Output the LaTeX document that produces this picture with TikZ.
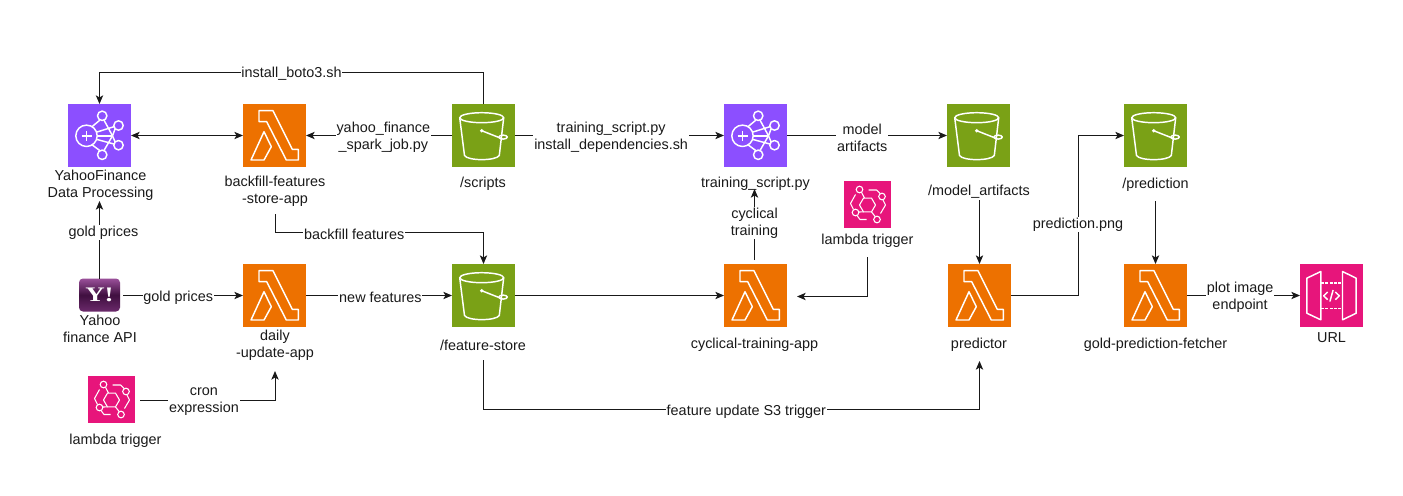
\documentclass[tikz,border=0pt]{standalone}
\usepackage{fontspec}
\setmainfont{Liberation Sans}
\newfontfamily\yahoofont[FakeStretch=1.3]{Liberation Serif}
\usetikzlibrary{arrows.meta,calc}
\definecolor{cpurple}{HTML}{8C4FFF}
\definecolor{corange}{HTML}{ED7100}
\definecolor{cgreen}{HTML}{7AA116}
\definecolor{cpink}{HTML}{E7157B}
\definecolor{ctext}{HTML}{1A1A1A}
\definecolor{ytop}{HTML}{9A509A}
\definecolor{ymid}{HTML}{3F0F3F}
\definecolor{ybot}{HTML}{6B2A6B}
\newcommand{\lambdaglyph}{\begin{scope}[shift={(path picture bounding box.center)},glyph]
 \draw (-15.5,-24.8) -- (-1.5,-24.8) -- (17.8,13.8) -- (23.8,13.8) -- (23.8,24.5) -- (11.8,24.5) -- (-7.8,-13.8) -- (-15.5,-13.8) -- cycle;
 \draw (-10.5,-3.8) -- (-3.2,11.2) -- (-10.5,24.5) -- (-23.5,24.5) -- cycle;
\end{scope}}
\newcommand{\bucketglyph}{\begin{scope}[shift={(path picture bounding box.center)},glyph]
 \draw (-1.8,-17.8) ellipse [x radius=22,y radius=5];
 \draw (-23.8,-17.8) -- (-19,20) .. controls (-16,25.5) and (12.5,25.5) .. (15.8,20) -- (20.2,-17.8);
 \draw (-1.8,-4.8) -- (18.5,3.2);
 \fill[white] (-1.8,-4.8) circle [radius=1.9];
 \draw[rotate around={20:(19.6,1.6)}] (19.6,1.6) ellipse [x radius=4.2,y radius=2];
\end{scope}}
\newcommand{\neuralglyph}{\begin{scope}[shift={(path picture bounding box.center)},glyph]
 \draw (-13,0.3) circle [radius=10.7];
 \draw (-18,0.3) -- (-8,0.3) (-13,-4.7) -- (-13,5.3);
 \draw (2.7,-19.7) circle [radius=4.7] (19,-10) circle [radius=4.7] (19,9.7) circle [radius=4.7] (2.7,19.3) circle [radius=4.7];
 \draw (-7.5,-8.8) -- (0.5,-15.5);
 \draw (-2.5,-3.5) -- (14.4,-8.8);
 \draw (-2.5,4) -- (14.4,8.5);
 \draw (-7.5,9.3) -- (0.5,15.2);
 \draw (4.5,-15.4) -- (13,0.3) -- (4.5,15);
 \draw (15.6,-6.7) -- (13,0.3) -- (15.6,6.4);
 \draw (-2.3,0.3) -- (13,0.3);
\end{scope}}
\newcommand{\eventglyph}{\begin{scope}[shift={(path picture bounding box.center)},glyph,line width=0.8pt]
 \draw (8,0.5) -- (4,7.4) -- (-4,7.4) -- (-8,0.5) -- (-4,-6.4) -- (4,-6.4) -- cycle;
 \draw (-8,-15) circle [radius=3.3] (-12,8) circle [radius=3.3] (9.5,15) circle [radius=3.3] (14.5,-8) circle [radius=3.3];
 \draw (-6,-12.2) -- (-3,-6.4);
 \draw (4,7.4) -- (7.8,12.2);
 \draw (-8.7,7.5) -- (-4,7.4);
 \draw (1,-14.5) -- (9,-14.5) -- (12.8,-10.8);
 \draw (15.5,-4.5) -- (18,0.5) -- (13,9);
 \draw (-12,-10) -- (-17,-1) -- (-14,5);
 \draw (-10.5,11) -- (-7.5,15) -- (-1,15);
\end{scope}}
\newcommand{\apiglyph}{\begin{scope}[shift={(path picture bounding box.center)},glyph]
 \draw (-24.7,-17.3) -- (-10.7,-24) -- (-10.7,24.3) -- (-24.7,17.7) -- cycle;
 \draw (11,-24) -- (24.7,-17.3) -- (24.7,17.7) -- (11,24.3) -- cycle;
 \draw[dash pattern=on 2.2pt off 1.1pt] (-10.7,-12.3) -- (11,-12.3) (-10.7,13) -- (11,13);
 \draw (-3.8,-3.5) -- (-7.8,0.3) -- (-3.8,4.2);
 \draw (3.8,-3.5) -- (7.8,0.3) -- (3.8,4.2);
 \draw (1.6,-5.5) -- (-1.6,6);
\end{scope}}
\tikzset{
 x=0.75pt,y=-0.75pt,
 glyph/.style={draw=white,line width=1.1pt,line join=round},
 icon/.style={inner sep=0pt,outer sep=0pt,minimum size=47.25pt},
 lambdaicon/.style={icon,fill=corange,path picture={\lambdaglyph}},
 bucketicon/.style={icon,fill=cgreen,path picture={\bucketglyph}},
 neuralicon/.style={icon,fill=cpurple,path picture={\neuralglyph}},
 apiicon/.style={icon,fill=cpink,path picture={\apiglyph}},
 eventicon/.style={inner sep=0pt,outer sep=0pt,minimum size=35.25pt,fill=cpink,path picture={\eventglyph}},
 caption/.style={text=ctext,font=\fontsize{10.8pt}{12.75pt}\selectfont,align=center,inner sep=1pt,yshift=-1.4pt},
 edgelabel/.style={caption,fill=white,inner sep=0.6pt},
 conn/.style={draw=black!90,line width=0.75pt,-{Stealth[length=6.5pt,width=5.5pt,inset=1.6pt]}},
 biconn/.style={conn,{Stealth[length=6.5pt,width=5.5pt,inset=1.6pt]}-{Stealth[length=6.5pt,width=5.5pt,inset=1.6pt]}}
}
\begin{document}
\begin{tikzpicture}
\useasboundingbox (0,0) rectangle (1403,496);
\fill[white] (0,0) rectangle (1403,496);
% icons
\node[neuralicon] (proc) at (99.5,135.5) {};
\node[lambdaicon] (backfill) at (274.5,135.5) {};
\node[bucketicon] (scripts) at (483.5,135.5) {};
\node[neuralicon] (train) at (755.5,135.5) {};
\node[bucketicon] (model) at (978.5,135.5) {};
\node[bucketicon] (pred) at (1155.5,135.5) {};
\node[lambdaicon] (daily) at (274.5,295.5) {};
\node[bucketicon] (feature) at (483.5,295.5) {};
\node[lambdaicon] (cyc) at (755.5,295.5) {};
\node[lambdaicon] (predictor) at (979.5,295.5) {};
\node[lambdaicon] (fetcher) at (1155.5,295.5) {};
\node[apiicon] (url) at (1331.5,295.5) {};
\node[eventicon] (trigA) at (111.5,399.5) {};
\node[eventicon] (trigB) at (867.5,204.5) {};
\node[rounded corners=3pt,minimum width=30.75pt,minimum height=24.75pt,inner sep=0pt,outer sep=0pt,
  top color=ytop,bottom color=ybot,middle color=ymid,
  text=white,font=\yahoofont\bfseries\fontsize{15.5pt}{15.5pt}\selectfont] (yahoo) at (99.5,295) {Y!};
% captions
\node[caption] (lproc) at (100.5,183.5) {YahooFinance\\Data Processing};
\node[caption] (lback) at (275,189.5) {backfill-features\\-store-app};
\node[caption] (lscripts) at (483,182) {/scripts};
\node[caption] (ltrain) at (755.5,182) {training\_script.py};
\node[caption] (lmodel) at (979,190) {/model\_artifacts};
\node[caption] (lpred) at (1155.5,183) {/prediction};
\node[caption] (lyahoo) at (100,326.5) {Yahoo\\finance API};
\node[caption] (ldaily) at (275,343.5) {daily\\-update-app};
\node[caption] (lfeature) at (483,343) {/feature-store};
\node[caption] (lcyc) at (754.5,343) {cyclical-training-app};
\node[caption] (lpredictor) at (979,343) {predictor};
\node[caption] (lfetcher) at (1155.5,343) {gold-prediction-fetcher};
\node[caption] (lurl) at (1331.5,335.5) {URL};
\node[caption] (ltrigA) at (115.5,439) {lambda trigger};
\node[caption] (ltrigB) at (867.5,239) {lambda trigger};
% free connector ends
\coordinate (yahooOut) at (123,295.5);
\coordinate (procIn) at (99.5,201);
\coordinate (backOut) at (275,214);
\coordinate (backBend) at (275,232);
\coordinate (cycOut) at (754.5,260);
\coordinate (trainIn) at (754.5,189);
\coordinate (trigOut) at (867.5,257);
\coordinate (cycIn) at (797,296.5);
\coordinate (modelOut) at (979.5,200);
\coordinate (predOut) at (1155.5,201);
\coordinate (cronOut) at (140,400);
\coordinate (cronIn) at (275,371);
\coordinate (featOut) at (483.5,360);
\coordinate (featBend) at (483.5,409.5);
\coordinate (predIn) at (979.5,361);
% connectors
\draw[conn] (scripts.north) -- ++(0,-32) -| node[edgelabel,pos=0.25] {install\_boto3.sh} (proc.north);
\draw[biconn] (proc.east) -- (backfill.west);
\draw[conn] (scripts.west) -- node[edgelabel,pos=0.47] {yahoo\_finance\\\_spark\_job.py} (backfill.east);
\draw[conn] (scripts.east) -- node[edgelabel,pos=0.46] {training\_script.py\\install\_dependencies.sh} (train.west);
\draw[conn] (train.east) -- node[edgelabel,pos=0.47] {model\\artifacts} (model.west);
\draw[conn] (yahoo.north) -- node[edgelabel,pos=0.62,xshift=3pt] {gold prices} (procIn);
\draw[conn] (yahooOut) -- node[edgelabel,pos=0.46] {gold prices} (daily.west);
\draw[conn] (daily.east) -- node[edgelabel,pos=0.51] {new features} (feature.west);
\draw[conn] (feature.east) -- (cyc.west);
\draw[conn] (cycOut) -- node[edgelabel,pos=0.55] {cyclical\\training} (trainIn);
\draw[conn] (trigOut) |- (cycIn);
\draw[conn] (backOut) -- (backBend) -| node[edgelabel,pos=0.19] {backfill features} (feature.north);
\draw[conn] (modelOut) -- (predictor.north);
\draw[conn] (predictor.east) -- ++(67,0) |- node[edgelabel,pos=0.228] {prediction.png} (pred.west);
\draw[conn] (predOut) -- (fetcher.north);
\draw[conn] (fetcher.east) -- node[edgelabel,pos=0.47] {plot image\\endpoint} (url.west);
\draw[conn] (cronOut) -| node[edgelabel,pos=0.237] {cron\\expression} (cronIn);
\draw[conn] (featOut) -- (featBend) -| node[edgelabel,pos=0.265] {feature update S3 trigger} (predIn);
\end{tikzpicture}
\end{document}
